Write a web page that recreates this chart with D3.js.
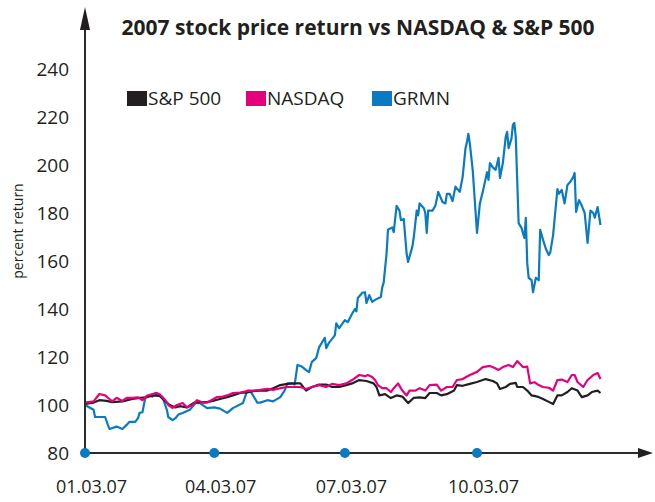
<!DOCTYPE html>
<html>
<head>
<meta charset="utf-8">
<script src="https://cdn.jsdelivr.net/npm/d3@7"></script>
<style>
  body { margin: 0; background: #fff; }
  svg { display: block; font-family: 'Open Sans', sans-serif; }
</style>
</head>
<body>
<div class="canvas"></div>
<script>
// Data (dates are 2007, values are percent return)
const seriesNames = ['S&P 500', 'NASDAQ', 'GRMN']
const seriesColors = ['#231f20', '#e5007d', '#0a7bc2']

const grmnDates = ['01-03','01-09','01-10','01-17','01-20','01-25','01-29',
  '02-01','02-03','02-07','02-09','02-10','02-12','02-14','02-16','02-19','02-21','02-23','02-26',
  '03-01','03-02','03-05','03-07','03-09','03-12','03-17','03-21','03-24','03-29',
  '04-03','04-07','04-12','04-16','04-23','04-26','04-28',
  '05-03','05-05','05-10','05-14','05-19','05-22','05-24','05-27','05-29','05-31',
  '06-03','06-06','06-08','06-10','06-13','06-15','06-19','06-20','06-22','06-26','06-27','06-29',
  '07-03','07-05','07-08','07-10','07-11','07-12','07-15','07-17','07-18','07-20','07-22','07-24','07-28','07-29','07-30',
  '08-01','08-02','08-05','08-06','08-08','08-10','08-11','08-13','08-15','08-16','08-19','08-20','08-22','08-23','08-24','08-27','08-28','08-29','08-30',
  '09-02','09-04','09-06','09-09','09-11','09-12','09-14','09-16','09-18','09-21','09-23','09-25','09-26','09-27','09-28','09-30',
  '10-03','10-05','10-07','10-10','10-11','10-12','10-14','10-16','10-18','10-19','10-21','10-23','10-24','10-25','10-27','10-28','10-29','10-30',
  '11-01','11-03','11-05','11-06','11-07','11-08','11-10','11-11','11-13','11-15','11-16','11-18','11-20','11-22','11-23','11-25','11-28','11-29',
  '12-01','12-03','12-05','12-07','12-09','12-10','12-11','12-13','12-15','12-17','12-19','12-21','12-23','12-24','12-26','12-28']
const grmnValues = [100,98,95,95,90,91,90,
  91.7,93,93,94.6,96.7,97,103,104,103.5,105,104,103.3,
  98,95,93.7,94.5,96,96.7,98,100.8,100.8,98.7,
  99,98.5,96.7,98.7,100.8,106,106,
  101,101,102,101.5,103.3,106,109,109,108.5,116.7,
  116,114.5,113.7,118,119.5,124,128,123.7,126,129,134,132,
  135.4,134.5,138,140,139,144.6,146.7,147,142.5,145.8,143,143.8,145,149,151,
  163,173,174,172,183,181,177,177.5,163,159.6,166,170,181,179,184,182,180,171.7,181,
  181,183,188.8,184.6,184,188,188,185,191,188.8,195,207,209.6,213,209,198,
  171.7,184,188.8,197,193.8,200.8,199,198,203,194.6,200.8,211.7,213.8,207,211,216.7,217.5,211.7,
  175.8,173.8,169.6,178,159,153,152,147,153,152,173,168.8,165,162.5,163.5,170.8,190,188,
  189.6,184,191.7,193,195,196.7,180.4,185.4,183,180,167.5,181,180,178,182.5,175]

const nasdaqDates = ['01-03','01-09','01-13','01-17','01-20','01-22','01-25','01-29',
  '02-01','02-05','02-09','02-12','02-15','02-19','02-22','02-24','02-28',
  '03-02','03-05','03-08','03-12','03-15','03-19','03-22','03-26','03-29',
  '04-01','04-05','04-09','04-12','04-16','04-21','04-26','04-30',
  '05-05','05-10','05-14','05-19','05-24','05-28',
  '06-02','06-06','06-10','06-15','06-20','06-24','06-29',
  '07-04','07-08','07-13','07-17','07-19','07-22','07-24','07-26','07-29',
  '08-01','08-04','08-06','08-09','08-12','08-15','08-17','08-21','08-24','08-28','08-31',
  '09-05','09-08','09-12','09-16','09-19','09-23','09-28',
  '10-03','10-07','10-12','10-15','10-18','10-21','10-25','10-28','10-31',
  '11-04','11-07','11-09','11-12','11-15','11-18','11-22','11-25','11-28',
  '12-01','12-05','12-08','12-10','12-12','12-16','12-19','12-23','12-26','12-28']
const nasdaqValues = [101,101.5,104.6,104,102.5,101.5,103,101.7,
  103,103,103.2,102,103.8,104.6,105,104.5,102,
  100,98.8,100,100.8,99,100,102,101,101,
  102,103.3,103.5,104,105,105.2,105.8,106,
  106.3,106.7,106.3,107,107.5,107.5,
  107.5,106.7,107.5,108.3,107.5,108.8,108.3,
  109,110.4,112.5,112,112.5,111.7,110.4,108.3,107,
  107,105.4,107,109,106,104,106,106,107,106,108.3,
  108.5,106,107.5,107.5,110.4,110.8,112.5,
  113.8,115.8,116.3,115.5,114.6,115.8,116.7,115.8,118.3,
  115.8,116,109,109.5,108.3,107.5,107.2,106,110.4,
  110.6,109.6,112.5,112.5,109.6,107.5,110.4,112.5,113.3,110.8]

const spDates = ['01-03','01-09','01-13','01-18','01-22','01-29',
  '02-05','02-10','02-15','02-19','02-24',
  '03-01','03-03','03-07','03-10','03-15','03-20','03-24','03-29',
  '04-02','04-07','04-12','04-16','04-21','04-26','04-30',
  '05-05','05-10','05-14','05-19','05-24','05-28',
  '06-02','06-06','06-10','06-15','06-20','06-24','06-29',
  '07-04','07-08','07-13','07-18','07-23','07-25','07-27','07-31',
  '08-04','08-08','08-12','08-16','08-20','08-24','08-28','08-31',
  '09-05','09-08','09-12','09-17','09-19','09-23','09-28',
  '10-03','10-09','10-14','10-17','10-19','10-23','10-26','10-30','10-31',
  '11-04','11-07','11-10','11-14','11-18','11-22','11-25','11-28',
  '12-01','12-05','12-08','12-12','12-15','12-19','12-22','12-26','12-28']
const spValues = [100.5,101,102,101.7,101.2,101.5,
  102.5,103,103.2,104,103.8,
  101,100,99,99.5,99,101,101.2,101.2,
  101.7,102.5,103.3,104,105,105.2,105.8,
  106,106,107,108.3,108.8,109,
  109,106,107.5,108.5,108.5,107.5,107.5,
  108.3,109,110.4,110,109,107.5,104,104.5,
  102.9,104,103.5,100.8,103,103.2,102.9,105,
  105,104,104.5,106,108.3,108,108.8,
  109.6,110.8,110,109,106.7,107.5,108.8,109.2,107.5,
  107.5,106,104,103.5,102.5,101.3,100.4,104,
  104,105.4,107,106,103.3,104,105.4,106,105]

const xTickDates = ['01-03', '04-03', '07-03', '10-03']
const yTicks = [80, 100, 120, 140, 160, 180, 200, 220, 240]

const parse = d3.timeParse('%Y-%m-%d')
const toDate = s => parse('2007-' + s)
const fmt = d3.timeFormat('%m.%d.%y')

const width = 655
const height = 502
const x0 = 85, yBase = 453

const svg = d3.select('.canvas')
  .append('svg')
  .attr('width', width)
  .attr('height', height)

// Scales
const x = d3.scaleTime()
  .domain([toDate('01-03'), toDate('10-03')])
  .range([x0, 477])

const y = d3.scaleLinear()
  .domain([80, 240])
  .range([yBase, 69])

// Build series
const series = [
  { name: seriesNames[0], color: seriesColors[0], dates: spDates, values: spValues },
  { name: seriesNames[1], color: seriesColors[1], dates: nasdaqDates, values: nasdaqValues },
  { name: seriesNames[2], color: seriesColors[2], dates: grmnDates, values: grmnValues }
]

const line = d3.line()
  .x(d => x(d.date))
  .y(d => y(d.value))

// draw GRMN first, then the indexes on top
const drawOrder = [series[2], series[0], series[1]]
svg.append('g')
  .selectAll('path')
  .data(drawOrder)
  .enter()
  .append('path')
  .attr('fill', 'none')
  .attr('stroke', d => d.color)
  .attr('stroke-width', 2.2)
  .attr('stroke-linejoin', 'round')
  .attr('d', s => line(s.dates.map((dt, i) => ({ date: toDate(dt), value: s.values[i] }))))

// Axes (labels only, lines drawn by hand with arrows)
const yAxis = d3.axisLeft(y)
  .tickValues(yTicks)
  .tickSize(0)
  .tickPadding(16)

const yAxisGroup = svg.append('g')
  .attr('transform', `translate(${x0}, 0)`)
  .call(yAxis)
yAxisGroup.select('.domain').remove()
yAxisGroup.selectAll('text')
  .attr('font-size', 19)
  .attr('font-family', 'Open Sans, sans-serif')
  .attr('fill', '#231f20')

const xAxis = d3.axisBottom(x)
  .tickValues(xTickDates.map(toDate))
  .tickFormat(fmt)
  .tickSize(0)
  .tickPadding(27)

const xAxisGroup = svg.append('g')
  .attr('transform', `translate(0, ${yBase})`)
  .call(xAxis)
xAxisGroup.select('.domain').remove()
xAxisGroup.selectAll('text')
  .attr('font-size', 18)
  .attr('font-family', 'Open Sans, sans-serif')
  .attr('fill', '#231f20')
  .attr('dx', 6)

// axis lines
svg.append('line')
  .attr('x1', x0).attr('x2', x0)
  .attr('y1', yBase).attr('y2', 24)
  .attr('stroke', '#2b2b2b').attr('stroke-width', 2)
svg.append('line')
  .attr('x1', x0).attr('x2', 640)
  .attr('y1', yBase).attr('y2', yBase)
  .attr('stroke', '#2b2b2b').attr('stroke-width', 2)

// arrow heads
svg.append('path')
  .attr('d', `M${x0},7 L${x0 - 5},30 L${x0 + 5},30 Z`)
  .attr('fill', '#231f20')
svg.append('path')
  .attr('d', `M653,${yBase} L638,${yBase - 5} L638,${yBase + 5} Z`)
  .attr('fill', '#231f20')

// tick dots
svg.append('g')
  .selectAll('circle')
  .data(xTickDates)
  .enter()
  .append('circle')
  .attr('cx', d => x(toDate(d)))
  .attr('cy', yBase)
  .attr('r', 5)
  .attr('fill', '#0a7bc2')

// title
svg.append('text')
  .attr('x', 358)
  .attr('y', 35)
  .attr('text-anchor', 'middle')
  .attr('font-size', 21)
  .attr('font-weight', 'bold')
  .attr('fill', '#231f20')
  .text('2007 stock price return vs NASDAQ & S&P 500')

// y axis label
svg.append('text')
  .attr('transform', 'translate(23, 231) rotate(-90)')
  .attr('text-anchor', 'middle')
  .attr('font-size', 14)
  .attr('fill', '#231f20')
  .text('percent return')

// legend
const legendX = [127, 246, 372]
const legend = svg.append('g')
  .selectAll('g')
  .data(series)
  .enter()
  .append('g')
  .attr('transform', (d, i) => `translate(${legendX[i]}, 91)`)

legend.append('rect')
  .attr('width', 20)
  .attr('height', 15)
  .attr('fill', d => d.color)

legend.append('text')
  .attr('x', 21)
  .attr('y', 14)
  .attr('font-size', 19)
  .attr('fill', '#231f20')
  .text(d => d.name)
</script>
</body>
</html>
